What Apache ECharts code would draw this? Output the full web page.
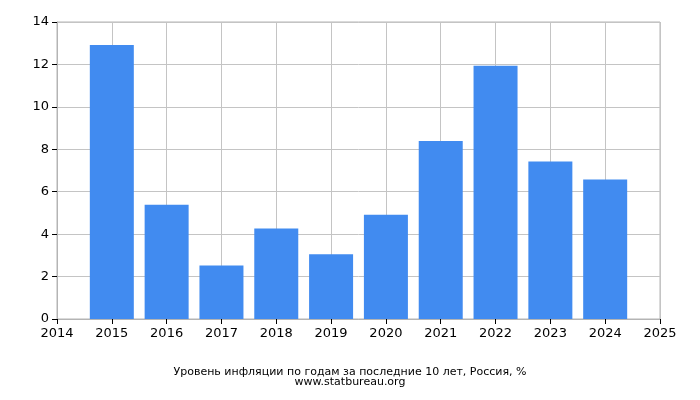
<!DOCTYPE html>
<html><head><meta charset="utf-8">
<script src="https://cdn.jsdelivr.net/npm/echarts@6/dist/echarts.min.js"></script>
<style>html,body{margin:0;padding:0;background:#fff}#c{width:700px;height:400px}</style>
</head><body><div id="c"></div>
<script>
const years = [2015, 2016, 2017, 2018, 2019, 2020, 2021, 2022, 2023, 2024];
const inflation = [12.91, 5.38, 2.52, 4.27, 3.05, 4.91, 8.39, 11.94, 7.42, 6.57];
const titleText = 'Уровень инфляции по годам за последние 10 лет, Россия, %';
const subText = 'www.statbureau.org';

const chart = echarts.init(document.getElementById('c'), null, {renderer: 'canvas'});
chart.setOption({
  animation: false,
  textStyle: {fontFamily: 'DejaVu Sans'},
  grid: {left: 57, right: 40, top: 22, bottom: 81, show: true, borderColor: '#b4b4b4', borderWidth: 1},
  title: {
    text: titleText, subtext: subText, left: 'center', top: 366, itemGap: -2,
    textStyle: {fontSize: 11, fontWeight: 'normal', color: '#000', fontFamily: 'DejaVu Sans', lineHeight: 12},
    subtextStyle: {fontSize: 11, color: '#000', fontFamily: 'DejaVu Sans', lineHeight: 12},
    padding: 0
  },
  xAxis: {
    type: 'value', min: 2014, max: 2025, interval: 1,
    axisLine: {show: true, lineStyle: {color: '#b4b4b4'}},
    axisTick: {show: true, length: 5, lineStyle: {color: '#000'}},
    axisLabel: {color: '#000', fontSize: 13, margin: 8, formatter: v => String(v)},
    splitLine: {show: true, lineStyle: {color: '#c4c4c4'}}
  },
  yAxis: {
    type: 'value', min: 0, max: 14, interval: 2,
    axisLine: {show: true, lineStyle: {color: '#b4b4b4'}},
    axisTick: {show: true, length: 5, lineStyle: {color: '#000'}},
    axisLabel: {color: '#000', fontSize: 13, margin: 8},
    splitLine: {show: true, lineStyle: {color: '#c4c4c4'}}
  },
  series: [{
    type: 'bar', barWidth: 44,
    itemStyle: {color: '#418bf0'},
    data: years.map((y, i) => [y, inflation[i]])
  }]
});
</script></body></html>
